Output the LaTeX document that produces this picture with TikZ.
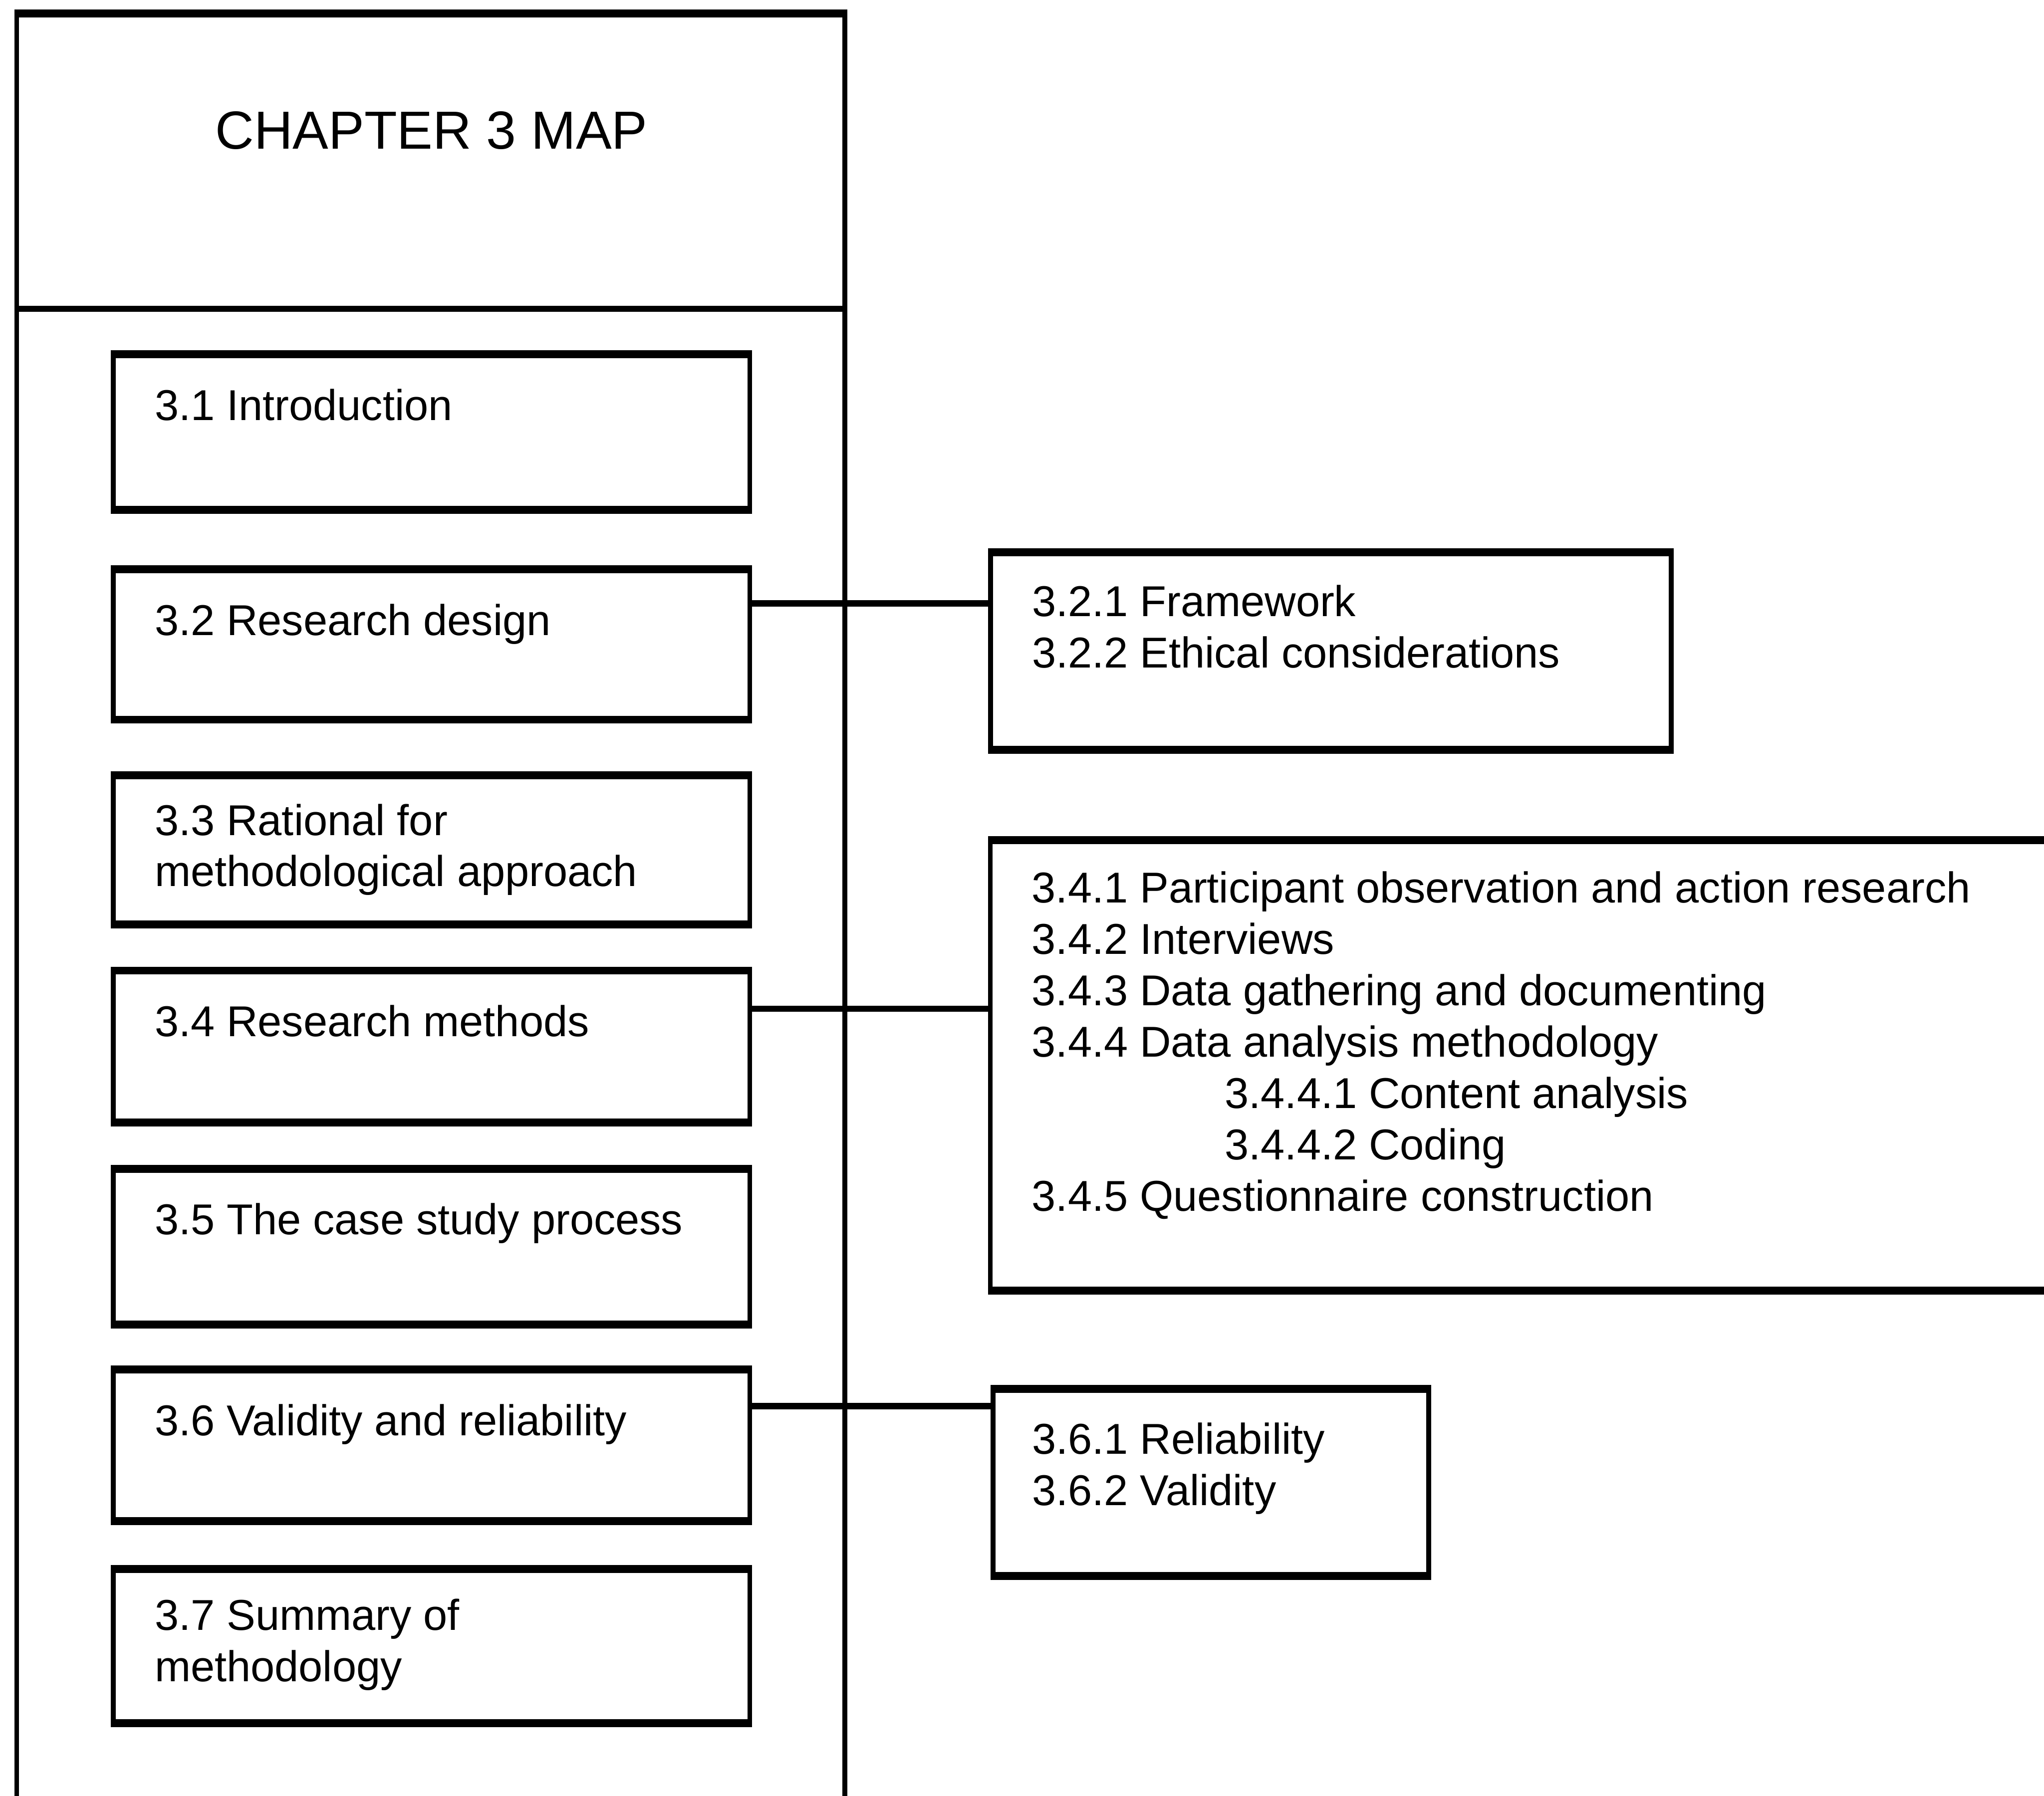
\documentclass[tikz,border=0pt]{standalone}
\usepackage{fontspec}
\setmainfont{Liberation Sans}
\begin{document}
\begin{tikzpicture}[x=0.01cm, y=-0.01cm,
  vline/.style={line width=1.05pt},
  hline/.style={line width=1.35pt},
  secbox/.style={draw, vline, rectangle, inner sep=0pt},
  txt/.style={anchor=north west, align=left, inner sep=0pt,
    font=\fontsize{9.42}{11.2}\selectfont, execute at begin node=\strut},
  conn/.style={hline}
]
\useasboundingbox (0,0) rectangle (1568,1378);

% outer chapter frame (open at the foot of the page)
\node[secbox, minimum width=6.35cm, minimum height=14.2cm] (frame) at (330.5,722) {};
\node[inner sep=0pt, font=\fontsize{11.7}{14}\selectfont] (title) at (331,100) {CHAPTER 3 MAP};
\coordinate (div) at (0,237);
\draw[hline] (frame.west |- div) -- (frame.east |- div);

% main sections
\node[secbox, minimum width=4.88cm, minimum height=1.17cm] (b31) at (331,331.5) {};
\node[secbox, minimum width=4.88cm, minimum height=1.13cm] (b32) at (331,494.5) {};
\node[secbox, minimum width=4.88cm, minimum height=1.12cm] (b33) at (331,652) {};
\node[secbox, minimum width=4.88cm, minimum height=1.14cm] (b34) at (331,803) {};
\node[secbox, minimum width=4.88cm, minimum height=1.17cm] (b35) at (331,956.5) {};
\node[secbox, minimum width=4.88cm, minimum height=1.14cm] (b36) at (331,1109) {};
\node[secbox, minimum width=4.88cm, minimum height=1.16cm] (b37) at (331,1263) {};

\node[txt] (t31) at ([shift={(33,23)}]b31.north west) {3.1 Introduction};
\node[txt] (t32) at ([shift={(33,23)}]b32.north west) {3.2 Research design};
\node[txt] (t33) at ([shift={(33,22)}]b33.north west) {3.3 Rational for\\methodological approach};
\node[txt] (t34) at ([shift={(33,23)}]b34.north west) {3.4 Research methods};
\node[txt] (t35) at ([shift={(33,23)}]b35.north west) {3.5 The case study process};
\node[txt] (t36) at ([shift={(33,23)}]b36.north west) {3.6 Validity and reliability};
\node[txt] (t37) at ([shift={(33,23)}]b37.north west) {3.7 Summary of\\methodology};

% subsections
\node[secbox, minimum width=5.22cm, minimum height=1.49cm] (r32) at (1021,499.5) {};
\node[secbox, minimum width=8.8cm, minimum height=3.43cm] (r34) at (1200,817.5) {};
\node[secbox, minimum width=3.34cm, minimum height=1.41cm] (r36) at (929,1137.5) {};

\node[txt] (s32) at ([shift={(33,25)}]r32.north west)
  {3.2.1 Framework\\3.2.2 Ethical considerations};
\node[txt] (s34) at ([shift={(33,24)}]r34.north west)
  {3.4.1 Participant observation and action research\\
   3.4.2 Interviews\\
   3.4.3 Data gathering and documenting\\
   3.4.4 Data analysis methodology\\
   \hspace*{1.48cm}3.4.4.1 Content analysis\\
   \hspace*{1.48cm}3.4.4.2 Coding\\
   3.4.5 Questionnaire construction};
\node[txt] (s36) at ([shift={(31,26)}]r36.north west)
  {3.6.1 Reliability\\3.6.2 Validity};

% heavier horizontal edges
\foreach \n in {b31,b32,b33,b34,b35,b36,b37,r32,r34,r36}
  \draw[hline] (\n.north west) -- (\n.north east) (\n.south west) -- (\n.south east);
\draw[hline] (frame.north west) -- (frame.north east);

% links from sections to their subsections
\coordinate (j2) at (0,463);
\coordinate (j4) at (0,774);
\coordinate (j6) at (0,1079);
\draw[conn] (b32.east |- j2) -- (r32.west |- j2);
\draw[conn] (b34.east |- j4) -- (r34.west |- j4);
\draw[conn] (b36.east |- j6) -- (r36.west |- j6);
\end{tikzpicture}
\end{document}
